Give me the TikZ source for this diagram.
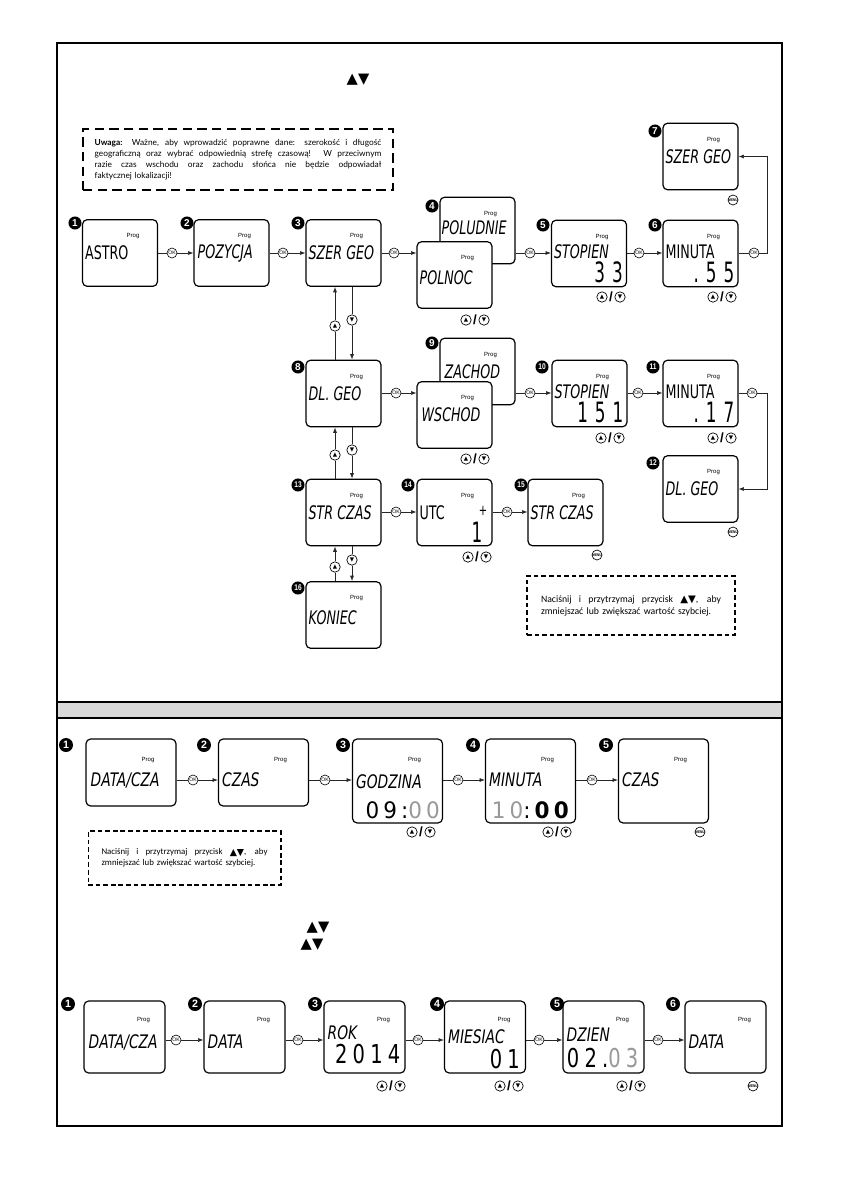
\documentclass[tikz,border=0pt]{standalone}
\usepackage{fontspec}
\setmainfont{Lato}
\newfontfamily\lcdf[FakeStretch=0.68]{DejaVu Sans}
\newfontfamily\lcdw[FakeStretch=0.74]{DejaVu Sans}
\newfontfamily\digA[FakeStretch=0.6,LetterSpace=25]{DejaVu Sans}
\newfontfamily\digB[FakeStretch=0.95,LetterSpace=18]{DejaVu Sans}
\newfontfamily\digC[FakeStretch=0.75,LetterSpace=20]{DejaVu Sans}
\newfontfamily\symf{DejaVu Sans}
\newfontfamily\carl{Carlito}
\newfontfamily\smallf{Liberation Sans}
\newfontfamily\smallc[FakeStretch=0.8]{Liberation Sans}
\usetikzlibrary{arrows.meta,calc}
\newcommand\jline[2]{\makebox[#1][s]{\spaceskip=0pt\relax\xspaceskip=0pt\relax #2}}
\tikzset{
 scr/.style={draw, rounded corners=3.5pt, line width=0.9pt, fill=white, minimum width=56.25pt, minimum height=50pt, inner sep=0pt},
 scrT/.style={scr, minimum width=67.5pt, minimum height=50.25pt},
 scrTT/.style={scr, minimum width=67.5pt, minimum height=63pt},
 scrD/.style={scr, minimum width=60.75pt, minimum height=54pt},
 badge/.style={circle, fill=black, text=white, inner sep=0pt, minimum size=9.8pt, font=\smallf\bfseries\fontsize{7.5}{7.5}\selectfont},
 badgeB/.style={badge, font=\smallc\bfseries\fontsize{6.2}{6.2}\selectfont},
 badgeL/.style={badge, minimum size=10.5pt, font=\smallf\bfseries\fontsize{8}{8}\selectfont},
 okc/.style={circle, draw, line width=0.45pt, fill=white, inner sep=0pt, minimum size=7.5pt, font=\smallf\fontsize{3.8}{3.8}\selectfont},
 udc/.style={circle, draw, line width=0.5pt, fill=white, inner sep=0pt, minimum size=7.8pt, font=\symf\fontsize{4.2}{4.2}\selectfont},
 slash/.style={inner sep=0pt, font=\smallf\bfseries\fontsize{10}{10}\selectfont},
 menuc/.style={circle, draw, line width=0.5pt, fill=white, inner sep=0pt, minimum size=7.5pt, font=\smallc\bfseries\fontsize{2.9}{2.9}\selectfont},
 ln/.style={line width=0.5pt, draw=black!85},
 con/.style={ln, -{Latex[length=4pt,width=3pt]}},
 prog/.style={inner sep=0pt, font=\smallf\fontsize{4.5}{4.5}\selectfont},
 lcd/.style={inner sep=0pt, anchor=west, font=\lcdf\fontsize{14}{14}\selectfont},
 lcdi/.style={inner sep=0pt, anchor=west, font=\lcdf\fontsize{14}{14}\selectfont\itshape},
 lcdw/.style={inner sep=0pt, anchor=west, font=\lcdw\fontsize{14}{14}\selectfont\itshape},
 bigA/.style={inner sep=0pt, anchor=east, font=\digA\fontsize{21}{21}\selectfont},
 bigB/.style={inner sep=0pt, anchor=east, font=\digB\fontsize{17}{17}\selectfont},
 bigC/.style={inner sep=0pt, anchor=east, font=\digC\fontsize{19.5}{19.5}\selectfont},
 noteA/.style={draw, dash pattern=on 7pt off 4pt, line width=1pt, inner ysep=0pt, align=left},
 noteB/.style={draw, dash pattern=on 3.5pt off 2.2pt, line width=0.8pt, inner ysep=0pt, align=left},
 tri/.style={inner sep=0pt, font=\symf\fontsize{11}{11}\selectfont}
}
\newcommand\updn[3]{\node[udc] (#1u) at (#2-9,#3) {▲};\node[slash] (#1s) at (#2,#3) {/};\node[udc] (#1d) at (#2+9,#3) {▼};}
\newcommand\prg[1]{\node[prog] (#1p) at ($(#1.north)+(13,17)$) {Prog};}
\newcommand\prgT[1]{\node[prog] (#1p) at ($(#1.north)+(17,22)$) {Prog};}
\newcommand\prgD[1]{\node[prog] (#1p) at ($(#1.north)+(19,20)$) {Prog};}
\begin{document}
\begin{tikzpicture}[x=0.75pt,y=-0.75pt]
\useasboundingbox (0,0) rectangle (840,1192);
% frame
\draw[line width=1pt] (57,43) rectangle (782,1126);
\draw[line width=1pt, fill=black!15] (57,702) rectangle (782,718);
\node[tri] (tri1) at (358,80) {▲▼};
% note 1
\node[noteA, text width=215pt, inner xsep=8.75pt, minimum height=45.75pt, font=\fontsize{6.25}{8.25}\selectfont] (note1) at (238,159.5)
 {\jline{215pt}{\textbf{Uwaga:} Ważne, aby wprowadzić poprawne dane: szerokość i długość}\\
  \jline{215pt}{geograficzną oraz wybrać odpowiednią strefę czasową! W przeciwnym}\\
  \jline{215pt}{razie czas wschodu oraz zachodu słońca nie będzie odpowiadał}\\
  faktycznej lokalizacji!};
% top screens
\node[scr] (s1) at (120,253) {};
\node[scr] (s2) at (231.5,253) {};
\node[scr] (s3) at (343.5,253) {};
\node[scr] (s4a) at (477.5,230.5) {};
\prg{s4a}
\node[lcdi] (s4at) at ($(s4a.west)+(2,-3)$) {POLUDNIE};
\node[scr] (s4b) at (454.5,275) {};
\node[scr] (s5) at (589,253.5) {};
\node[scr] (s6) at (700.5,253.5) {};
\node[scr] (s7) at (700.5,156.5) {};
\node[scr] (s8) at (343.5,393.5) {};
\node[scr] (s9a) at (477.5,371.5) {};
\prg{s9a}
\node[lcdi] (s9at) at ($(s9a.west)+(5,0)$) {ZACHOD};
\node[scr] (s9b) at (454.5,415) {};
\node[scr] (s10) at (589.5,393.5) {};
\node[scr] (s11) at (700.5,393.5) {};
\node[scr] (s12) at (700.5,489) {};
\node[scr] (s13) at (343.5,512.5) {};
\node[scr] (s14) at (454.5,512.5) {};
\node[scr] (s15) at (565.5,512.5) {};
\node[scr] (s16) at (343.5,615) {};
\prg{s1}\prg{s2}\prg{s3}\prg{s4b}\prg{s5}\prg{s6}\prg{s7}\prg{s8}\prg{s9b}
\prg{s10}\prg{s11}\prg{s12}\prg{s13}\prg{s14}\prg{s15}\prg{s16}
\node[lcd] (s1t) at ($(s1.west)+(3,0)$) {ASTRO};
\node[lcdi] (s2t) at ($(s2.west)+(4,0)$) {POZYCJA};
\node[lcdi] (s3t) at ($(s3.west)+(3,0)$) {SZER GEO};
\node[lcdi] (s4bt) at ($(s4b.west)+(3,3)$) {POLNOC};
\node[lcdi] (s5t) at ($(s5.west)+(3,-2)$) {STOPIEN};
\node[bigA] (s5d) at ($(s5.east)+(-4,19)$) {33};
\node[lcd] (s6t) at ($(s6.west)+(3,-2)$) {MINUTA};
\node[bigA] (s6d) at ($(s6.east)+(-4,19)$) {.55};
\node[lcdi] (s7t) at ($(s7.west)+(3,0)$) {SZER GEO};
\node[lcdi] (s8t) at ($(s8.west)+(3,0)$) {DL. GEO};
\node[lcdi] (s9bt) at ($(s9b.west)+(5,0)$) {WSCHOD};
\node[lcdi] (s10t) at ($(s10.west)+(3,-2)$) {STOPIEN};
\node[bigA] (s10d) at ($(s10.east)+(-4,19)$) {151};
\node[lcd] (s11t) at ($(s11.west)+(3,-2)$) {MINUTA};
\node[bigA] (s11d) at ($(s11.east)+(-4,19)$) {.17};
\node[lcdi] (s12t) at ($(s12.west)+(3,0)$) {DL. GEO};
\node[lcdi] (s13t) at ($(s13.west)+(3,0)$) {STR CZAS};
\node[lcd] (s14t) at ($(s14.west)+(3,0)$) {UTC};
\node[inner sep=0pt, anchor=east, font=\lcdf\fontsize{11}{11}\selectfont] (s14p) at ($(s14.east)+(-5,-2)$) {+};
\node[bigA] (s14d) at ($(s14.east)+(-10,20)$) {1};
\node[lcdi] (s15t) at ($(s15.west)+(3,0)$) {STR CZAS};
\node[lcdi] (s16t) at ($(s16.west)+(3,3)$) {KONIEC};
% top badges
\node[badge] (b1) at (75,223) {1};
\node[badge] (b2) at (187,223) {2};
\node[badge] (b3) at (298,223) {3};
\node[badge] (b4) at (432,206) {4};
\node[badge] (b5) at (543,225) {5};
\node[badge] (b6) at (655,225) {6};
\node[badge] (b7) at (655,131) {7};
\node[badge] (b8) at (298,367) {8};
\node[badge] (b9) at (432,343) {9};
\node[badgeB] (b10) at (542,367) {10};
\node[badgeB] (b11) at (653,367) {11};
\node[badgeB] (b12) at (653,463) {12};
\node[badgeB] (b13) at (298,485) {13};
\node[badgeB] (b14) at (408,485) {14};
\node[badgeB] (b15) at (521,485) {15};
\node[badgeB] (b16) at (298,588) {16};
% top OK circles and connectors
\node[okc] (ok1) at (172,253) {OK};
\node[okc] (ok2) at (283,253) {OK};
\node[okc] (ok3) at (394,253) {OK};
\node[okc] (ok4) at (530,253) {OK};
\node[okc] (ok5) at (639,253) {OK};
\node[okc] (ok6) at (754,253) {OK};
\node[okc] (ok8) at (396,393) {OK};
\node[okc] (ok9) at (530,393) {OK};
\node[okc] (ok10) at (638,393) {OK};
\node[okc] (ok11) at (752,393) {OK};
\node[okc] (ok13) at (396,512) {OK};
\node[okc] (ok14) at (507,512) {OK};
\coordinate (c6) at (767,253);
\coordinate (c11) at (767,393);
\draw[ln] (s1.east |- ok1) -- (ok1); \draw[con] (ok1) -- (ok1 -| s2.west);
\draw[ln] (s2.east |- ok2) -- (ok2); \draw[con] (ok2) -- (ok2 -| s3.west);
\draw[ln] (s3.east |- ok3) -- (ok3); \draw[con] (ok3) -- (ok3 -| s4b.west);
\draw[ln] (s4a.east |- ok4) -- (ok4); \draw[con] (ok4) -- (ok4 -| s5.west);
\draw[ln] (s5.east |- ok5) -- (ok5); \draw[con] (ok5) -- (ok5 -| s6.west);
\draw[ln] (s6.east |- ok6) -- (ok6); \draw[con] (ok6) -- (c6) |- (s7.east);
\draw[ln] (s8.east |- ok8) -- (ok8); \draw[con] (ok8) -- (ok8 -| s9b.west);
\draw[ln] (s9a.east |- ok9) -- (ok9); \draw[con] (ok9) -- (ok9 -| s10.west);
\draw[ln] (s10.east |- ok10) -- (ok10); \draw[con] (ok10) -- (ok10 -| s11.west);
\draw[ln] (s11.east |- ok11) -- (ok11); \draw[con] (ok11) -- (c11) |- (s12.east);
\draw[ln] (s13.east |- ok13) -- (ok13); \draw[con] (ok13) -- (ok13 -| s14.west);
\draw[ln] (s14.east |- ok14) -- (ok14); \draw[con] (ok14) -- (ok14 -| s15.west);
% vertical up/down
\node[udc] (upA) at (335,326) {▲};
\node[udc] (dnA) at (352,320) {▼};
\node[udc] (upB) at (335,455) {▲};
\node[udc] (dnB) at (352,450) {▼};
\node[udc] (upC) at (335,567) {▲};
\node[udc] (dnC) at (352,560) {▼};
\draw[ln] (s8.north -| upA) -- (upA); \draw[con] (upA) -- (s3.south -| upA);
\draw[ln] (s3.south -| dnA) -- (dnA); \draw[con] (dnA) -- (s8.north -| dnA);
\draw[ln] (s13.north -| upB) -- (upB); \draw[con] (upB) -- (s8.south -| upB);
\draw[ln] (s8.south -| dnB) -- (dnB); \draw[con] (dnB) -- (s13.north -| dnB);
\draw[ln] (s16.north -| upC) -- (upC); \draw[con] (upC) -- (s13.south -| upC);
\draw[ln] (s13.south -| dnC) -- (dnC); \draw[con] (dnC) -- (s16.north -| dnC);
% up/down button pairs and menu
\updn{u4}{475}{320}
\updn{u5}{611}{297}
\updn{u6}{722}{297}
\updn{u9}{475}{459}
\updn{u10}{610}{438}
\updn{u11}{722}{438}
\updn{u14}{477}{557}
\node[menuc] (m7) at (733,200) {MENU};
\node[menuc] (m12) at (733,532) {MENU};
\node[menuc] (m15) at (597,555) {MENU};
% note 2
\node[noteB, text width=135pt, inner xsep=10.5pt, minimum height=44.25pt, font=\carl\fontsize{7.3}{9}\selectfont] (note2) at (631,605.5)
 {\jline{135pt}{Naciśnij i przytrzymaj przycisk \raisebox{-0.3pt}{\symf\fontsize{7.6}{7.6}\selectfont ▲▼}, aby}\\
  zmniejszać lub zwiększać wartość szybciej.};
% ===== time section =====
\node[scrT] (t1) at (131,772.5) {};
\node[scrT] (t2) at (263.5,772.5) {};
\node[scrTT] (t3) at (397.5,781) {};
\node[scrTT] (t4) at (530.5,781) {};
\node[scrTT] (t5) at (663.5,781) {};
\prgT{t1}\prgT{t2}\prgT{t3}\prgT{t4}\prgT{t5}
\node[lcdw] (t1t) at ($(t1.west)+(5,7.5)$) {DATA/CZA};
\node[lcdw] (t2t) at ($(t2.west)+(4,7.5)$) {CZAS};
\node[lcdw] (t3t) at ($(t3.west)+(4,1)$) {GODZINA};
\node[bigB] (t3d) at ($(t3.east)+(-3,29)$) {09:\textcolor{black!40}{00}};
\node[lcdw] (t4t) at ($(t4.west)+(4,-1)$) {MINUTA};
\node[bigB] (t4d) at ($(t4.east)+(-3,29)$) {\textcolor{black!40}{10}:\textbf{00}};
\node[lcdw] (t5t) at ($(t5.west)+(4,-1)$) {CZAS};
\node[badgeL] (tb1) at (66,745) {1};
\node[badgeL] (tb2) at (204,745) {2};
\node[badgeL] (tb3) at (343,745) {3};
\node[badgeL] (tb4) at (473,745) {4};
\node[badgeL] (tb5) at (606,745) {5};
\node[okc] (okT1) at (193,780) {OK};
\node[okc] (okT2) at (325,780) {OK};
\node[okc] (okT3) at (458,780) {OK};
\node[okc] (okT4) at (592,780) {OK};
\draw[ln] (t1.east |- okT1) -- (okT1); \draw[con] (okT1) -- (okT1 -| t2.west);
\draw[ln] (t2.east |- okT2) -- (okT2); \draw[con] (okT2) -- (okT2 -| t3.west);
\draw[ln] (t3.east |- okT3) -- (okT3); \draw[con] (okT3) -- (okT3 -| t4.west);
\draw[ln] (t4.east |- okT4) -- (okT4); \draw[con] (okT4) -- (okT4 -| t5.west);
\updn{uT3}{421}{832}
\updn{uT4}{557}{832}
\node[menuc] (mT5) at (700,832) {MENU};
\node[noteB, text width=124.5pt, inner xsep=10.1pt, minimum height=40.5pt, font=\carl\fontsize{6.6}{8}\selectfont] (note3) at (184.5,858)
 {\jline{124.5pt}{Naciśnij i przytrzymaj przycisk \raisebox{-0.3pt}{\symf\fontsize{7}{7}\selectfont ▲▼}, aby}\\
  zmniejszać lub zwiększać wartość szybciej.};
\node[tri] (tri2) at (318,928) {▲▼};
\node[tri] (tri3) at (312,945) {▲▼};
% ===== date section =====
\node[scrD] (d1) at (124.5,1037) {};
\node[scrD] (d2) at (244.5,1037) {};
\node[scrD] (d3) at (364.5,1037) {};
\node[scrD] (d4) at (485,1037) {};
\node[scrD] (d5) at (603.5,1037) {};
\node[scrD] (d6) at (725.5,1037) {};
\prgD{d1}\prgD{d2}\prgD{d3}\prgD{d4}\prgD{d5}\prgD{d6}
\node[lcdw] (d1t) at ($(d1.west)+(5,5)$) {DATA/CZA};
\node[lcdw] (d2t) at ($(d2.west)+(4,5)$) {DATA};
\node[lcdw] (d3t) at ($(d3.west)+(4,-4)$) {ROK};
\node[bigC] (d3d) at ($(d3.east)+(-5,17)$) {2014};
\node[lcdw] (d4t) at ($(d4.west)+(4,0)$) {MIESIAC};
\node[bigC] (d4d) at ($(d4.east)+(-6,22)$) {01};
\node[lcdw] (d5t) at ($(d5.west)+(4,-2)$) {DZIEN};
\node[bigC] (d5d) at ($(d5.east)+(-6,21)$) {02.\textcolor{black!40}{03}};
\node[lcdw] (d6t) at ($(d6.west)+(4,5)$) {DATA};
\node[badgeL] (db1) at (68,1004) {1};
\node[badgeL] (db2) at (195,1004) {2};
\node[badgeL] (db3) at (315,1004) {3};
\node[badgeL] (db4) at (437,1004) {4};
\node[badgeL] (db5) at (557,1004) {5};
\node[badgeL] (db6) at (673,1004) {6};
\node[okc] (okD1) at (176,1040) {OK};
\node[okc] (okD2) at (298,1040) {OK};
\node[okc] (okD3) at (418,1040) {OK};
\node[okc] (okD4) at (539,1040) {OK};
\node[okc] (okD5) at (658,1040) {OK};
\draw[ln] (d1.east |- okD1) -- (okD1); \draw[con] (okD1) -- (okD1 -| d2.west);
\draw[ln] (d2.east |- okD2) -- (okD2); \draw[con] (okD2) -- (okD2 -| d3.west);
\draw[ln] (d3.east |- okD3) -- (okD3); \draw[con] (okD3) -- (okD3 -| d4.west);
\draw[ln] (d4.east |- okD4) -- (okD4); \draw[con] (okD4) -- (okD4 -| d5.west);
\draw[ln] (d5.east |- okD5) -- (okD5); \draw[con] (okD5) -- (okD5 -| d6.west);
\updn{uD3}{391}{1086}
\updn{uD4}{509}{1086}
\updn{uD5}{631}{1086}
\node[menuc] (mD6) at (753,1086) {MENU};
\end{tikzpicture}
\end{document}
